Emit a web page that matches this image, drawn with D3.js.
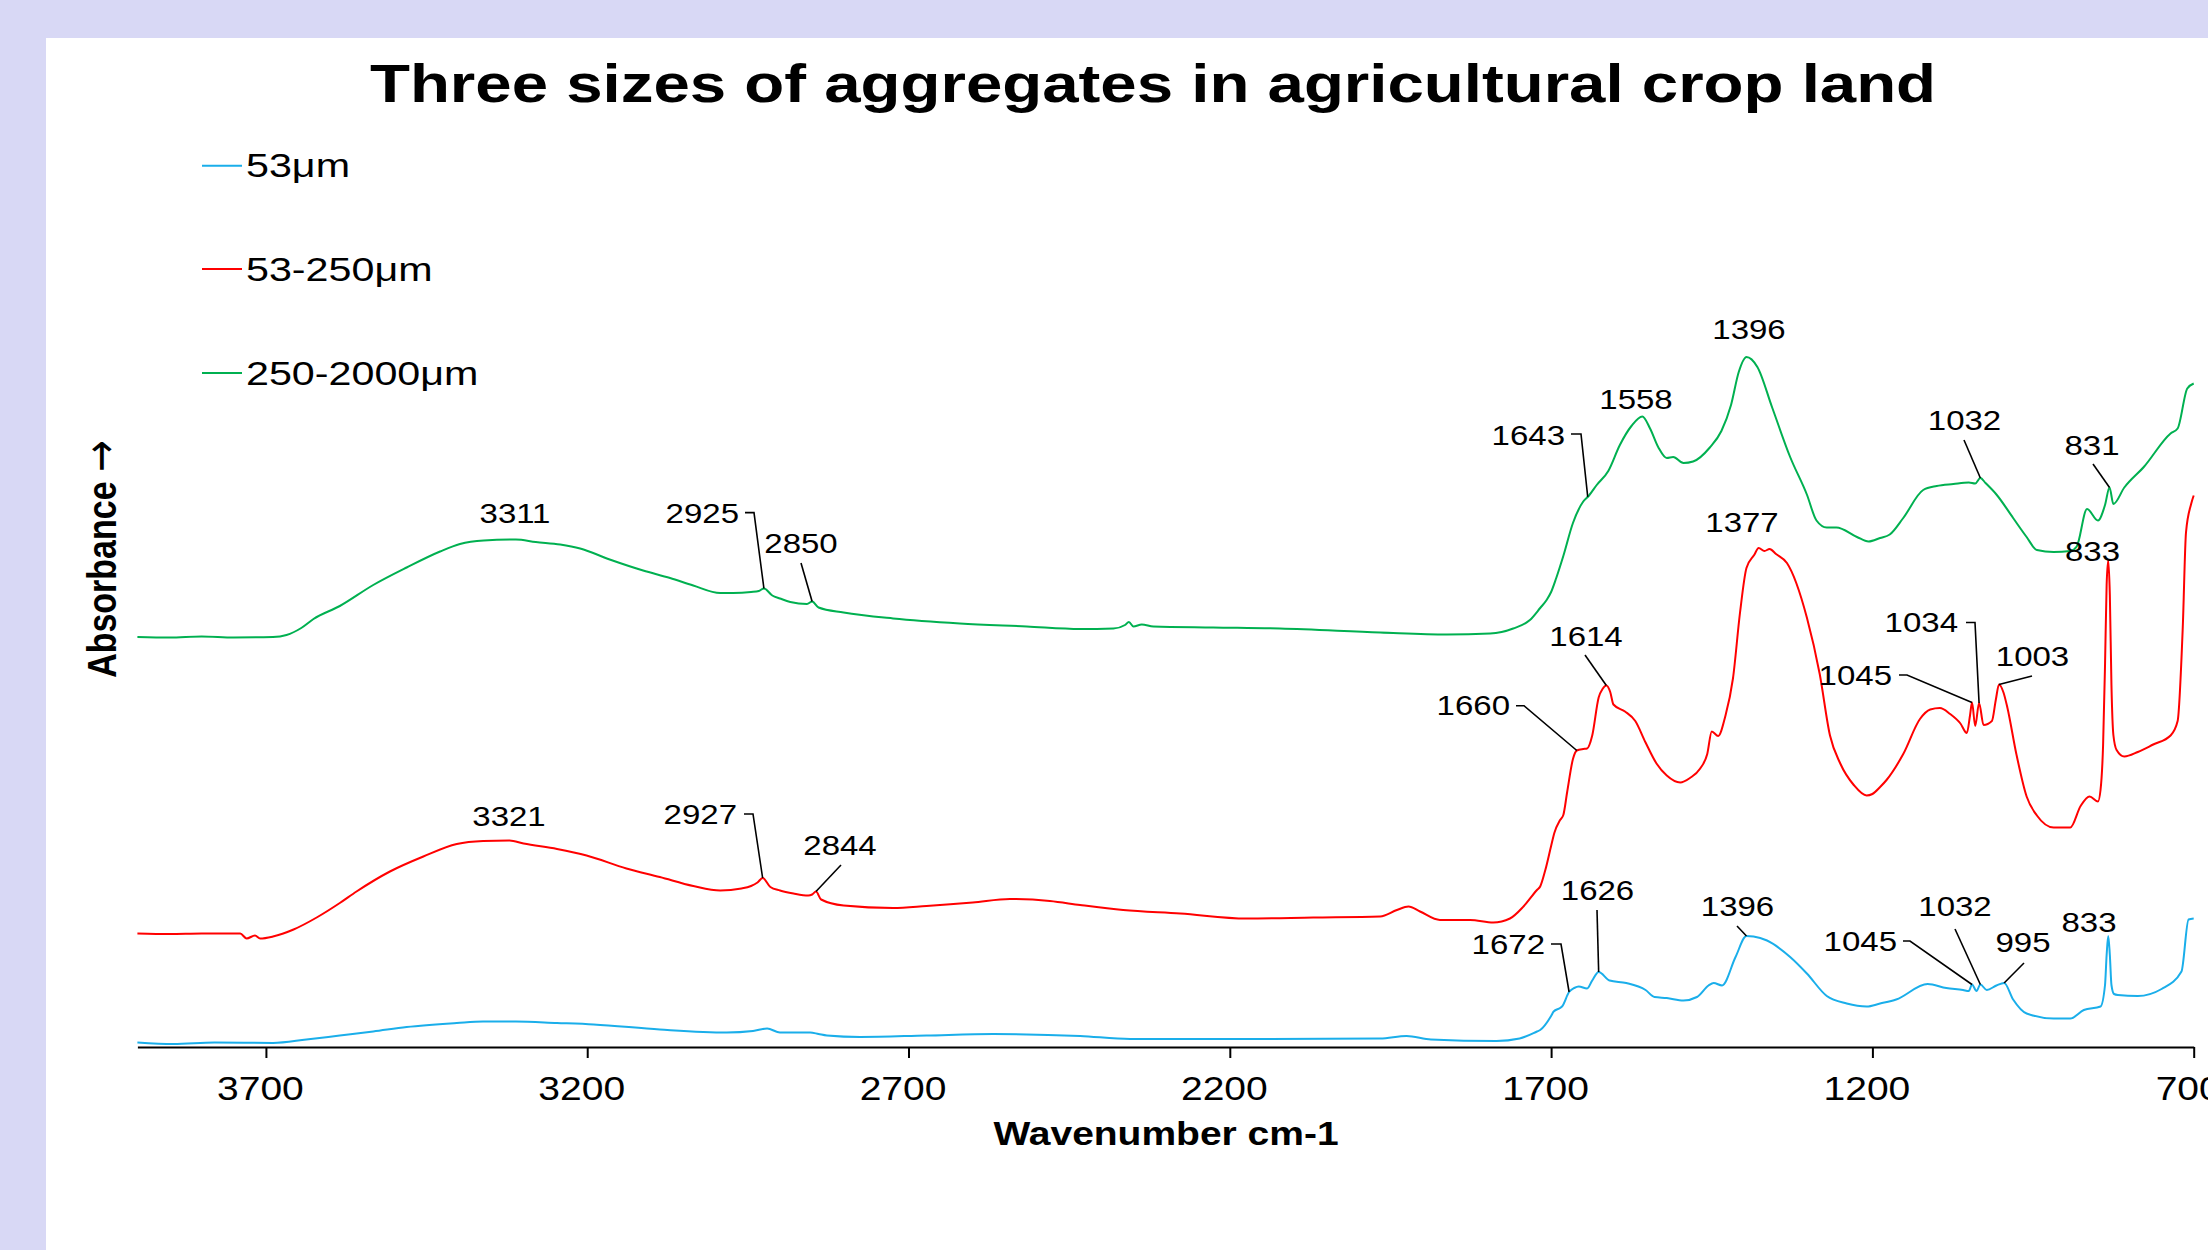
<!DOCTYPE html>
<html>
<head>
<meta charset="utf-8">
<script src="https://cdn.jsdelivr.net/npm/d3@7"></script>
<style>
  html, body { margin: 0; padding: 0; background: #d8d8f5; }
  svg { display: block; }
</style>
</head>
<body>
<svg id="chart" width="2208" height="1250"></svg>
<script>
// ---- Data: FTIR absorbance spectra, [wavenumber (cm-1), absorbance (offset, a.u.)] ----
const chartTitle = "Three sizes of aggregates in agricultural crop land";
const xTitle = "Wavenumber cm-1";
const yTitle = "Absorbance";
const wavenumberTicks = [3700, 3200, 2700, 2200, 1700, 1200, 700];
const seriesNames = ["53μm", "53-250μm", "250-2000μm"];

// < 53 µm aggregates
const fine = [[3900,0.005],[3844,0.002],[3780,0.005],[3689,0.004],[3637,0.011],[3585,0.019],[3533,0.027],[3481,0.036],[3403,0.044],[3362,0.047],[3311,0.047],[3247,0.044],[3190,0.041],[3087,0.031],[2983,0.025],[2942,0.028],[2920,0.033],[2900,0.025],[2853,0.025],[2840,0.022],[2827,0.019],[2775,0.016],[2672,0.019],[2568,0.022],[2433,0.018],[2355,0.012],[2174,0.012],[1966,0.013],[1925,0.018],[1887,0.011],[1785,0.008],[1749,0.013],[1722,0.027],[1717,0.030],[1700,0.058],[1696,0.067],[1686,0.074],[1683,0.077],[1672,0.106],[1664,0.114],[1657,0.117],[1644,0.113],[1636,0.129],[1626,0.146],[1609,0.129],[1583,0.124],[1553,0.110],[1539,0.096],[1520,0.094],[1494,0.089],[1473,0.096],[1455,0.119],[1447,0.124],[1434,0.119],[1413,0.176],[1396,0.218],[1385,0.217],[1364,0.209],[1328,0.176],[1302,0.143],[1271,0.098],[1240,0.083],[1209,0.077],[1188,0.083],[1163,0.091],[1114,0.122],[1085,0.114],[1059,0.110],[1050,0.108],[1045,0.121],[1038,0.108],[1032,0.121],[1022,0.110],[1007,0.119],[995,0.124],[981,0.091],[960,0.063],[918,0.053],[892,0.053],[871,0.070],[845,0.077],[838,0.120],[835.5,0.180],[833,0.218],[830.5,0.180],[828,0.120],[824,0.102],[818,0.100],[787,0.098],[750,0.112],[719,0.147],[708,0.251],[700,0.253]];

// 53-250 µm aggregates
const medium = [[3900,0.223],[3850,0.222],[3800,0.223],[3740,0.223],[3730,0.213],[3717,0.219],[3709,0.213],[3689,0.217],[3657,0.231],[3621,0.255],[3585,0.284],[3559,0.307],[3507,0.347],[3455,0.377],[3403,0.402],[3362,0.408],[3321,0.409],[3299,0.403],[3247,0.392],[3201,0.379],[3139,0.353],[3087,0.336],[3035,0.318],[2993,0.309],[2960,0.313],[2945,0.318],[2935,0.325],[2927,0.334],[2915,0.316],[2900,0.309],[2879,0.303],[2856,0.299],[2850,0.301],[2844,0.307],[2836,0.291],[2801,0.279],[2724,0.274],[2672,0.278],[2600,0.285],[2542,0.292],[2480,0.288],[2433,0.280],[2366,0.270],[2277,0.263],[2174,0.253],[2070,0.255],[1966,0.257],[1940,0.270],[1922,0.277],[1904,0.267],[1873,0.250],[1826,0.250],[1790,0.245],[1764,0.253],[1743,0.277],[1722,0.310],[1717,0.317],[1709,0.350],[1700,0.398],[1695,0.424],[1686,0.450],[1681,0.460],[1675,0.506],[1666,0.572],[1660,0.589],[1650,0.592],[1644,0.593],[1636,0.619],[1626,0.695],[1620,0.712],[1614,0.719],[1608,0.706],[1603,0.681],[1585,0.667],[1569,0.648],[1553,0.605],[1536,0.563],[1520,0.539],[1499,0.525],[1484,0.534],[1468,0.553],[1457,0.582],[1450,0.627],[1440,0.618],[1429,0.657],[1417,0.733],[1406,0.865],[1396,0.954],[1384,0.980],[1377,0.994],[1368,0.988],[1360,0.992],[1350,0.982],[1333,0.964],[1302,0.855],[1282,0.742],[1266,0.619],[1250,0.563],[1229,0.520],[1209,0.499],[1200,0.502],[1188,0.516],[1178,0.530],[1152,0.582],[1126,0.652],[1110,0.671],[1095,0.674],[1079,0.662],[1063,0.643],[1053,0.624],[1048,0.660],[1045,0.685],[1040,0.638],[1034,0.684],[1027,0.640],[1014,0.648],[1008,0.690],[1003,0.721],[996,0.705],[990,0.675],[976,0.582],[960,0.497],[944,0.459],[918,0.435],[892,0.435],[876,0.478],[862,0.497],[849,0.487],[845,0.510],[841,0.600],[838,0.760],[835.5,0.920],[833,0.969],[830.5,0.900],[828,0.720],[825,0.620],[820,0.590],[808,0.577],[787,0.586],[763,0.601],[736,0.619],[725,0.648],[717,0.836],[712,1.025],[704,1.082],[700,1.099]];

// 250-2000 µm aggregates
const coarse = [[3900,0.816],[3850,0.815],[3800,0.817],[3750,0.815],[3689,0.816],[3668,0.820],[3645,0.834],[3626,0.852],[3585,0.878],[3533,0.920],[3481,0.955],[3429,0.987],[3398,1.002],[3361,1.009],[3311,1.011],[3280,1.006],[3242,1.001],[3211,0.993],[3165,0.971],[3113,0.949],[3071,0.934],[3035,0.919],[2993,0.904],[2973,0.904],[2945,0.906],[2933,0.908],[2925,0.913],[2912,0.899],[2900,0.893],[2884,0.886],[2858,0.882],[2850,0.887],[2840,0.875],[2801,0.865],[2724,0.853],[2620,0.843],[2516,0.837],[2433,0.832],[2381,0.833],[2363,0.840],[2357,0.846],[2350,0.837],[2337,0.841],[2319,0.837],[2226,0.835],[2122,0.833],[1966,0.825],[1862,0.821],[1795,0.823],[1759,0.833],[1733,0.850],[1717,0.874],[1707,0.890],[1700,0.906],[1692,0.934],[1681,0.978],[1666,1.044],[1650,1.087],[1641,1.099],[1629,1.120],[1611,1.148],[1593,1.200],[1575,1.238],[1558,1.257],[1546,1.233],[1533,1.195],[1520,1.174],[1510,1.176],[1494,1.164],[1479,1.167],[1453,1.195],[1435,1.228],[1420,1.280],[1408,1.346],[1396,1.376],[1379,1.356],[1356,1.275],[1328,1.176],[1302,1.101],[1287,1.049],[1271,1.035],[1256,1.035],[1224,1.016],[1206,1.007],[1188,1.014],[1173,1.021],[1152,1.054],[1121,1.110],[1100,1.118],[1074,1.122],[1050,1.125],[1040,1.123],[1032,1.134],[1024,1.124],[1007,1.101],[981,1.054],[960,1.016],[944,0.990],[918,0.986],[892,0.988],[882,0.997],[866,1.072],[849,1.049],[838,1.080],[831,1.115],[825,1.082],[808,1.115],[777,1.157],[736,1.223],[725,1.233],[710,1.313],[700,1.323]];

// Labelled band positions (cm-1)
const peaksFine = [1672, 1626, 1396, 1045, 1032, 995, 833];
const peaksMedium = [3321, 2927, 2844, 1660, 1614, 1377, 1045, 1034, 1003, 833];
const peaksCoarse = [3311, 2925, 2850, 1643, 1558, 1396, 1032, 831];

// ---- Layout ----
const W = 2208, H = 1250;
const SX = 1.2;                 // horizontal stretch applied to all text
const FONT = "'Liberation Sans', Arial, Helvetica, sans-serif";
const colors = { fine: "#1aaeea", medium: "#ff0000", coarse: "#00b050" };

const series = [
  { key: "fine",   name: seriesNames[0], data: fine,   peaks: peaksFine },
  { key: "medium", name: seriesNames[1], data: medium, peaks: peaksMedium },
  { key: "coarse", name: seriesNames[2], data: coarse, peaks: peaksCoarse }
];

// label placement for each band: text anchor point, optional leader start / knee
const labelLayout = {
  coarse: {
    3311: { x: 515,    y: 523,   a: "middle" },
    2925: { x: 739,    y: 522.5, a: "end",    from: [745, 512.6], knee: [754, 512.6] },
    2850: { x: 801,    y: 553,   a: "middle", from: [801, 563] },
    1643: { x: 1565,   y: 445,   a: "end",    from: [1571, 434], knee: [1581, 434] },
    1558: { x: 1636,   y: 409,   a: "middle" },
    1396: { x: 1749,   y: 339,   a: "middle" },
    1032: { x: 1964.5, y: 429.5, a: "middle", from: [1964, 440] },
    831:  { x: 2092,   y: 454.5, a: "middle", from: [2093, 464] }
  },
  medium: {
    3321: { x: 509,    y: 826,   a: "middle" },
    2927: { x: 737,    y: 824,   a: "end",    from: [744, 814], knee: [753, 814] },
    2844: { x: 840,    y: 855,   a: "middle", from: [841, 865] },
    1660: { x: 1510,   y: 715,   a: "end",    from: [1516, 705.7], knee: [1524, 705.7] },
    1614: { x: 1586,   y: 645.6, a: "middle", from: [1585, 655] },
    1377: { x: 1742,   y: 532,   a: "middle" },
    1045: { x: 1892,   y: 685,   a: "end",    from: [1899, 675], knee: [1907, 675] },
    1034: { x: 1958,   y: 631.5, a: "end",    from: [1966, 622.5], knee: [1975, 622.5] },
    1003: { x: 2032.5, y: 666,   a: "middle", from: [2032, 676] },
    833:  { x: 2092.5, y: 560.7, a: "middle" }
  },
  fine: {
    1672: { x: 1545,   y: 954,   a: "end",    from: [1551, 944], knee: [1561, 944] },
    1626: { x: 1597.5, y: 899.5, a: "middle", from: [1597, 910] },
    1396: { x: 1737.5, y: 915.6, a: "middle", from: [1737, 926] },
    1045: { x: 1897,   y: 951,   a: "end",    from: [1903, 941], knee: [1910, 941] },
    1032: { x: 1955,   y: 915.6, a: "middle", from: [1955, 929] },
    995:  { x: 2023,   y: 952,   a: "middle", from: [2024, 963] },
    833:  { x: 2089,   y: 932,   a: "middle" }
  }
};

const svg = d3.select("#chart");

// page background and white slide area
svg.append("rect").attr("x", 0).attr("y", 0).attr("width", W).attr("height", H).attr("fill", "#d8d8f5");
svg.append("rect").attr("x", 46).attr("y", 38).attr("width", W - 46).attr("height", H - 38).attr("fill", "#ffffff");

const x = d3.scaleLinear().domain([3900, 700]).range([137.4, 2193.7]);
const y = d3.scaleLinear().domain([-0.004, 1.5]).range([1047, 295]);

// text helper with horizontal stretch
function label(parent, px, py, str, size, weight, anchor, sx) {
  return parent.append("text")
    .attr("transform", `translate(${px},${py}) scale(${sx || SX},1)`)
    .attr("text-anchor", anchor || "start")
    .attr("font-family", FONT)
    .attr("font-size", size)
    .attr("font-weight", weight || "normal")
    .attr("fill", "#000")
    .text(str);
}

// title
label(svg, 1153, 102, chartTitle, 54.5, "bold", "middle");

// x axis
const xAxis = d3.axisBottom(x)
  .tickValues(wavenumberTicks)
  .tickSize(11)
  .tickSizeOuter(0)
  .tickFormat(d3.format("d"));

const gx = svg.append("g")
  .attr("transform", `translate(0,${y.range()[0]})`)
  .call(xAxis);
gx.select(".domain").attr("stroke", "#000").attr("stroke-width", 2.2);
gx.selectAll(".tick line").attr("stroke", "#000").attr("stroke-width", 2);
gx.selectAll(".tick text")
  .attr("y", null).attr("dy", null)
  .attr("transform", `translate(-6,53) scale(${SX},1)`)
  .attr("font-family", FONT)
  .attr("font-size", 32.5)
  .attr("fill", "#000");

label(svg, 1166, 1145, xTitle, 32.5, "bold", "middle");

// y axis title (rotated), with a plain arrow glyph
const yt = svg.append("text")
  .attr("transform", `translate(116,559) scale(${SX},1) rotate(-90)`)
  .attr("text-anchor", "middle")
  .attr("font-family", FONT)
  .attr("font-size", 34)
  .attr("font-weight", "bold")
  .attr("fill", "#000");
yt.append("tspan").text(yTitle + " ");
yt.append("tspan")
  .attr("font-family", "'DejaVu Sans', sans-serif")
  .attr("font-weight", "normal")
  .attr("font-size", 38)
  .text("→");

// spectra
const line = d3.line()
  .x(d => x(d[0]))
  .y(d => y(d[1]))
  .curve(d3.curveMonotoneX);

const plot = svg.append("g");
series.forEach(s => {
  plot.append("path")
    .datum(s.data)
    .attr("fill", "none")
    .attr("stroke", colors[s.key])
    .attr("stroke-width", 2)
    .attr("stroke-linejoin", "round")
    .attr("d", line);
});

// absorbance at a given wavenumber (linear between readings)
function valueAt(data, wn) {
  for (let i = 0; i < data.length - 1; i++) {
    const a = data[i], b = data[i + 1];
    if (a[0] >= wn && b[0] <= wn) {
      const t = a[0] === b[0] ? 0 : (a[0] - wn) / (a[0] - b[0]);
      return a[1] + t * (b[1] - a[1]);
    }
  }
  return data[data.length - 1][1];
}

// band labels and leaders
const ann = svg.append("g");
series.forEach(s => {
  s.peaks.forEach(wn => {
    const L = labelLayout[s.key][wn];
    label(ann, L.x, L.y, String(wn), 27.5, "normal", L.a);
    if (L.from) {
      const tx = x(wn), ty = y(valueAt(s.data, wn));
      const p = d3.path();
      p.moveTo(L.from[0], L.from[1]);
      if (L.knee) p.lineTo(L.knee[0], L.knee[1]);
      p.lineTo(tx, ty);
      ann.append("path")
        .attr("d", p.toString())
        .attr("fill", "none")
        .attr("stroke", "#000")
        .attr("stroke-width", 1.6);
    }
  });
});

// legend
const legendY = [165.7, 269, 373];
const legend = svg.append("g");
series.forEach((s, i) => {
  legend.append("line")
    .attr("x1", 202).attr("x2", 242)
    .attr("y1", legendY[i]).attr("y2", legendY[i])
    .attr("stroke", colors[s.key]).attr("stroke-width", 2);
  label(legend, 246, legendY[i] + 11.5, s.name, 33, "normal", "start", 1.25);
});
</script>
</body>
</html>
